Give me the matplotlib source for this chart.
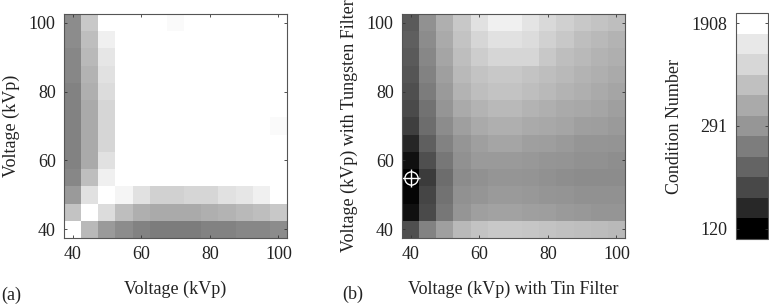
import numpy as np
import matplotlib
matplotlib.use('Agg')
import matplotlib.pyplot as plt
from matplotlib import colors, cm

plt.rcParams['font.family'] = ['Liberation Serif', 'DejaVu Serif']
plt.rcParams['font.size'] = 13

# tube voltages (kVp) on both axes
voltages = [40, 45, 50, 55, 60, 65, 70, 75, 80, 85, 90, 95, 100]

# (a) condition number, rows = y voltage 40..100, cols = x voltage 40..100
cond_a = [
    [2100, 548, 320, 272, 253, 244, 244, 244, 253, 253, 262, 262, 272],
    [648, 2100, 1003, 597, 462, 424, 424, 424, 462, 503, 548, 597, 703],
    [320, 1120, 2100, 1618, 1120, 828, 828, 898, 898, 1120, 1251, 1491, 2100],
    [262, 597, 1491, 2100, 2100, 2100, 2100, 2100, 2100, 2100, 2100, 2100, 2100],
    [253, 424, 1120, 2100, 2100, 2100, 2100, 2100, 2100, 2100, 2100, 2100, 2100],
    [253, 424, 898, 2100, 2100, 2100, 2100, 2100, 2100, 2100, 2100, 2100, 2100],
    [253, 424, 898, 2100, 2100, 2100, 2100, 2100, 2100, 2100, 2100, 2100, 1755],
    [253, 424, 898, 2100, 2100, 2100, 2100, 2100, 2100, 2100, 2100, 2100, 2100],
    [253, 462, 1003, 2100, 2100, 2100, 2100, 2100, 2100, 2100, 2100, 2100, 2100],
    [262, 503, 1120, 2100, 2100, 2100, 2100, 2100, 2100, 2100, 2100, 2100, 2100],
    [262, 548, 1251, 2100, 2100, 2100, 2100, 2100, 2100, 2100, 2100, 2100, 2100],
    [272, 597, 1491, 2100, 2100, 2100, 2100, 2100, 2100, 2100, 2100, 2100, 2100],
    [272, 703, 2100, 2100, 2100, 2100, 1755, 2100, 2100, 2100, 2100, 2100, 2100],
]

# (b) tin filter (x) vs tungsten filter (y)
cond_b = [
    [180, 253, 351, 548, 648, 703, 703, 680, 648, 617, 597, 580, 548],
    [130, 174, 235, 291, 351, 365, 365, 351, 338, 320, 302, 291, 291],
    [124, 169, 227, 281, 291, 320, 320, 302, 291, 287, 281, 281, 281],
    [120, 160, 219, 272, 281, 291, 291, 287, 281, 277, 272, 272, 272],
    [130, 180, 235, 281, 320, 320, 320, 302, 291, 287, 281, 281, 277],
    [143, 198, 253, 291, 351, 386, 386, 351, 338, 320, 291, 291, 287],
    [164, 219, 272, 351, 424, 462, 462, 424, 410, 386, 351, 338, 320],
    [174, 227, 291, 424, 503, 548, 548, 503, 462, 424, 410, 386, 351],
    [180, 244, 320, 503, 597, 648, 648, 597, 548, 503, 462, 424, 386],
    [186, 253, 351, 548, 648, 703, 703, 648, 597, 548, 503, 462, 424],
    [192, 262, 386, 597, 763, 898, 898, 898, 703, 597, 548, 503, 462],
    [198, 272, 424, 648, 898, 1120, 1120, 1003, 828, 703, 597, 548, 503],
    [192, 281, 462, 703, 1120, 1491, 1491, 1200, 960, 800, 703, 648, 597],
]

best_point = (40, 55)
cbar_ticks = [120, 291, 1908]
axis_ticks = [40, 60, 80, 100]

# colour scale: 11 grey steps, log spacing anchored at the labelled values
grays = [0, 40, 72, 100, 125, 150, 170, 192, 215, 232, 255]
anchors_v = np.log([110, 291, 2300])
anchors_t = [0, 0.5, 1]


def fwd(v):
    return np.interp(np.log(np.clip(v, 1e-9, None)), anchors_v, anchors_t)


def inv(t):
    return np.exp(np.interp(t, anchors_t, anchors_v))


norm = colors.FuncNorm((fwd, inv), vmin=110, vmax=2300)
gcols = [(g / 255, g / 255, g / 255) for g in grays]
nodes = [(0, gcols[0])] + [((k + 0.5) / 11, c) for k, c in enumerate(gcols)] + [(1, gcols[-1])]
heat_cmap = colors.LinearSegmentedColormap.from_list('heat', nodes)
bar_cmap = colors.ListedColormap(gcols)

W, H = 769, 304
fig = plt.figure(figsize=(W / 100, H / 100), dpi=100)


def px_axes(x0, y0, x1, y1):
    return fig.add_axes([x0 / W, 1 - y1 / H, (x1 - x0) / W, (y1 - y0) / H])


step = voltages[1] - voltages[0]
ext = [voltages[0] - step / 2, voltages[-1] + step / 2,
       voltages[0] - step / 2, voltages[-1] + step / 2]


def style(ax):
    ax.set_xticks(axis_ticks)
    ax.set_yticks(axis_ticks)
    ax.tick_params(direction='in', length=2.5, width=0.6, top=True, right=True,
                   colors='#333333', labelcolor='#222222', pad=6)
    for s in ax.spines.values():
        s.set_color('#555555')
        s.set_linewidth(0.8)


ax_a = px_axes(64, 14, 287, 238)
ax_a.imshow(np.array(cond_a), origin='lower', extent=ext, cmap=heat_cmap,
            norm=norm, aspect='auto', interpolation='nearest')
style(ax_a)
ax_a.set_xlabel('Voltage (kVp)', color='#222222')
ax_a.set_ylabel('Voltage (kVp)', color='#222222')
ax_a.xaxis.set_label_coords(0.5, -0.19)
ax_a.yaxis.set_label_coords(-0.197, 0.5)

ax_b = px_axes(402, 14, 625, 238)
ax_b.imshow(np.array(cond_b), origin='lower', extent=ext, cmap=heat_cmap,
            norm=norm, aspect='auto', interpolation='nearest')
ax_b.plot(*best_point, marker='o', ms=9.5, mfc='none', mec='white', mew=1.0)
ax_b.plot(*best_point, marker='+', ms=13, mec='white', mew=1.0)
style(ax_b)
ax_b.set_xlabel('Voltage (kVp) with Tin Filter', color='#222222')
ax_b.set_ylabel('Voltage (kVp) with Tungsten Filter', color='#222222')
ax_b.xaxis.set_label_coords(0.5, -0.19)
ax_b.yaxis.set_label_coords(-0.197, 0.5)

cax = px_axes(736, 13, 768, 239)
sm = cm.ScalarMappable(norm=norm, cmap=bar_cmap)
cbar = fig.colorbar(sm, cax=cax, ticks=cbar_ticks, ticklocation='left')
cbar.minorticks_off()
cbar.ax.set_yticklabels([str(t) for t in cbar_ticks])
cbar.ax.tick_params(direction='in', length=2.5, width=0.6, left=True, right=True,
                    colors='#333333', labelcolor='#222222', pad=6)
cbar.outline.set_edgecolor('#555555')
cbar.outline.set_linewidth(0.8)
cbar.set_label('Condition Number', color='#222222')
cbar.ax.yaxis.set_label_coords(-1.66, 0.5)

fig.text(1 / W, 1 - 295 / H, '(a)', va='center', ha='left', color='#222222')
fig.text(342 / W, 1 - 294 / H, '(b)', va='center', ha='left', color='#222222')

fig.savefig('out.png', dpi=100)
